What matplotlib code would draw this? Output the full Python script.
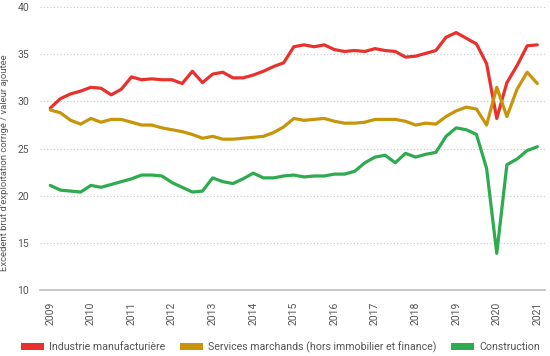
import matplotlib
matplotlib.use("Agg")
import matplotlib.pyplot as plt
import numpy as np
from matplotlib.patches import Patch

years = [2009, 2010, 2011, 2012, 2013, 2014, 2015, 2016, 2017, 2018, 2019, 2020, 2021]
y_ticks = [10, 15, 20, 25, 30, 35, 40]

industrie = [29.3, 30.3, 30.8, 31.1, 31.5, 31.4, 30.7, 31.3, 32.6, 32.3,
             32.4, 32.3, 32.3, 31.9, 33.2, 32.0, 32.9, 33.1, 32.5, 32.5,
             32.8, 33.2, 33.7, 34.1, 35.8, 36.0, 35.8, 36.0, 35.5, 35.3,
             35.4, 35.3, 35.6, 35.4, 35.3, 34.7, 34.8, 35.1, 35.4, 36.8,
             37.3, 36.7, 36.1, 34.0, 28.2, 32.0, 33.8, 35.9, 36.0]
services = [29.1, 28.8, 28.0, 27.6, 28.2, 27.8, 28.1, 28.1, 27.8, 27.5,
            27.5, 27.2, 27.0, 26.8, 26.5, 26.1, 26.3, 26.0, 26.0, 26.1,
            26.2, 26.3, 26.7, 27.3, 28.2, 28.0, 28.1, 28.2, 27.9, 27.7,
            27.7, 27.8, 28.1, 28.1, 28.1, 27.9, 27.5, 27.7, 27.6, 28.4,
            29.0, 29.4, 29.2, 27.5, 31.5, 28.4, 31.3, 33.1, 31.9]
construction = [21.1, 20.6, 20.5, 20.4, 21.1, 20.9, 21.2, 21.5, 21.8, 22.2,
                22.2, 22.1, 21.4, 20.9, 20.4, 20.5, 21.9, 21.5, 21.3, 21.8,
                22.4, 21.9, 21.9, 22.1, 22.2, 22.0, 22.1, 22.1, 22.3, 22.3,
                22.6, 23.5, 24.1, 24.3, 23.5, 24.5, 24.1, 24.4, 24.6, 26.3,
                27.2, 27.0, 26.5, 22.9, 13.9, 23.3, 23.9, 24.8, 25.2]

labels = ["Industrie manufacturière",
          "Services marchands (hors immobilier et finance)",
          "Construction"]
colors = ["#e8312c", "#c8940a", "#2eaa4f"]
ylabel = "Excédent brut d'exploitation corrigé / valeur ajoutée"

plt.rcParams['font.family'] = ['Roboto', 'DejaVu Sans']

x = 2009 + np.arange(len(industrie)) / 4.0

fig = plt.figure(figsize=(5.5, 3.56), dpi=100)
ax = fig.add_axes([0.073, 0.185, 0.918, 0.795])

for series, c in zip([industrie, services, construction], colors):
    ax.plot(x, series, color=c, lw=2.3, solid_joinstyle='round', solid_capstyle='round')

ax.set_ylim(10, 40)
ax.set_xlim(2008.75, 2021.19)
ax.set_yticks(y_ticks)
ax.set_xticks(years)
ax.set_xticklabels([str(y) for y in years], rotation=90)
for yv in y_ticks[1:]:
    ax.axhline(yv, color="#c8c8c8", lw=0.8, ls=(0, (1, 2)), zorder=0)
for s in ["top", "right", "left"]:
    ax.spines[s].set_visible(False)
ax.spines["bottom"].set_color("#bdbdbd")
ax.spines["bottom"].set_linewidth(1.2)
ax.tick_params(axis='both', length=0, labelsize=7.5, colors="#555555")
ax.tick_params(axis='x', pad=8)
ax.tick_params(axis='y', pad=8)
ax.set_ylabel(ylabel, fontsize=6.8, color="#555555", labelpad=4)
ax.yaxis.set_label_coords(-0.062, 0.45)

handles = [Patch(facecolor=c, edgecolor='none') for c in colors]
fig.legend(handles, labels, loc='center', bbox_to_anchor=(0.51, 0.025), ncol=3,
           frameon=False, fontsize=7.7, handlelength=2.2, handleheight=0.7,
           columnspacing=1.3, handletextpad=0.5, labelcolor="#555555")

fig.savefig("out.png", dpi=100)
